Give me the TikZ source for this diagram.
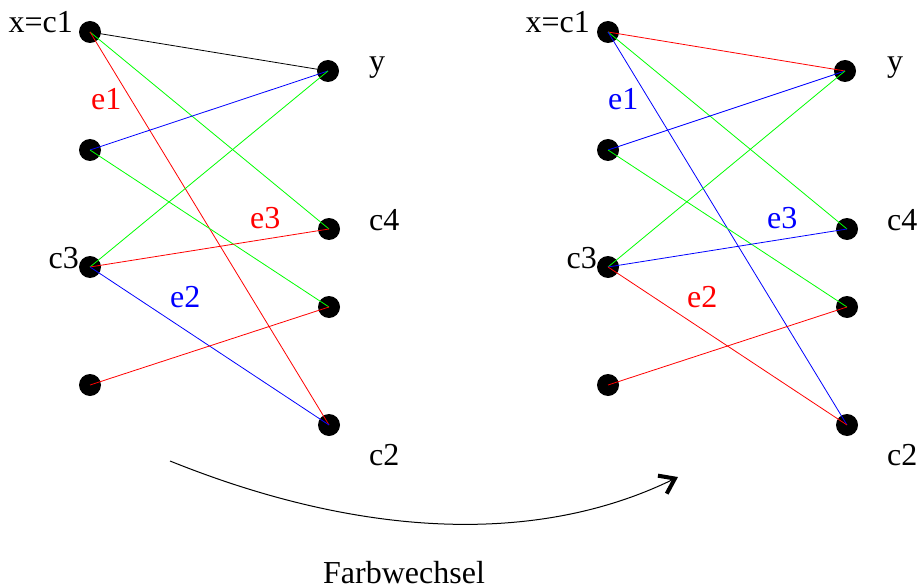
\documentclass[tikz,border=0pt]{standalone}
\usepackage{fontspec}
\setmainfont{Liberation Serif}
\usetikzlibrary{arrows.meta}
\definecolor{pgreen}{RGB}{0,255,0}
\definecolor{pred}{RGB}{255,0,0}
\definecolor{pblue}{RGB}{0,0,255}
\tikzset{
  dot/.style={circle,fill=black,inner sep=0pt,minimum size=22pt},
  edge/.style={line width=0.8pt},
  lbl/.style={inner sep=0pt,font=\fontsize{32}{36}\selectfont},
}
\begin{document}
\begin{tikzpicture}[x=1pt,y=-1pt]
\useasboundingbox (0,0) rectangle (920,588);
% left graph
\node[dot] (a1) at (90,32) {};
\node[dot] (a2) at (90,150) {};
\node[dot] (a3) at (90,267) {};
\node[dot] (a4) at (90,385) {};
\node[dot] (b1) at (328,71) {};
\node[dot] (b2) at (329,229) {};
\node[dot] (b3) at (329,307) {};
\node[dot] (b4) at (329,425) {};
\draw[edge,black] (a1.center) -- (b1.center);
\draw[edge,pgreen] (a1.center) -- (b2.center);
\draw[edge,pred] (a1.center) -- (b4.center);
\draw[edge,pblue] (a2.center) -- (b1.center);
\draw[edge,pgreen] (a2.center) -- (b3.center);
\draw[edge,pgreen] (a3.center) -- (b1.center);
\draw[edge,pred] (a3.center) -- (b2.center);
\draw[edge,pblue] (a3.center) -- (b4.center);
\draw[edge,pred] (a4.center) -- (b3.center);
\node[lbl,anchor=base east] (la1) at (73,33) {x=c1};
\node[lbl,anchor=base west] (lb1) at (369,72) {y};
\node[lbl,anchor=base west] (lb2) at (369,230) {c4};
\node[lbl,anchor=base east] (la3) at (79,268) {c3};
\node[lbl,anchor=base west] (lb4) at (369,465) {c2};
\node[lbl,anchor=base west,text=pred] (le1) at (91,110) {e1};
\node[lbl,anchor=base west,text=pred] (le3) at (250,228) {e3};
\node[lbl,anchor=base west,text=pblue] (le2) at (170,307) {e2};
% right graph
\node[dot] (c1) at (608,32) {};
\node[dot] (c2) at (608,150) {};
\node[dot] (c3) at (608,267) {};
\node[dot] (c4) at (608,385) {};
\node[dot] (d1) at (845,71) {};
\node[dot] (d2) at (847,229) {};
\node[dot] (d3) at (847,307) {};
\node[dot] (d4) at (847,425) {};
\draw[edge,pred] (c1.center) -- (d1.center);
\draw[edge,pgreen] (c1.center) -- (d2.center);
\draw[edge,pblue] (c1.center) -- (d4.center);
\draw[edge,pblue] (c2.center) -- (d1.center);
\draw[edge,pgreen] (c2.center) -- (d3.center);
\draw[edge,pgreen] (c3.center) -- (d1.center);
\draw[edge,pblue] (c3.center) -- (d2.center);
\draw[edge,pred] (c3.center) -- (d4.center);
\draw[edge,pred] (c4.center) -- (d3.center);
\node[lbl,anchor=base east] (lc1) at (590,33) {x=c1};
\node[lbl,anchor=base west] (ld1) at (887,72) {y};
\node[lbl,anchor=base west] (ld2) at (887,230) {c4};
\node[lbl,anchor=base east] (lc3) at (597,268) {c3};
\node[lbl,anchor=base west] (ld4) at (887,465) {c2};
\node[lbl,anchor=base west,text=pblue] (lf1) at (608,110) {e1};
\node[lbl,anchor=base west,text=pblue] (lf3) at (767,228) {e3};
\node[lbl,anchor=base west,text=pred] (lf2) at (687,307) {e2};
% arrow
\coordinate (s) at (170,461);
\coordinate (t) at (678,477);
\draw[line width=1pt,-{Straight Barb[length=14pt,width=20pt,line width=4pt]}] (s) .. controls (366,540) and (541,544) .. (t);
\node[lbl,anchor=base west] (fw) at (323,583) {Farbwechsel};
\end{tikzpicture}
\end{document}
